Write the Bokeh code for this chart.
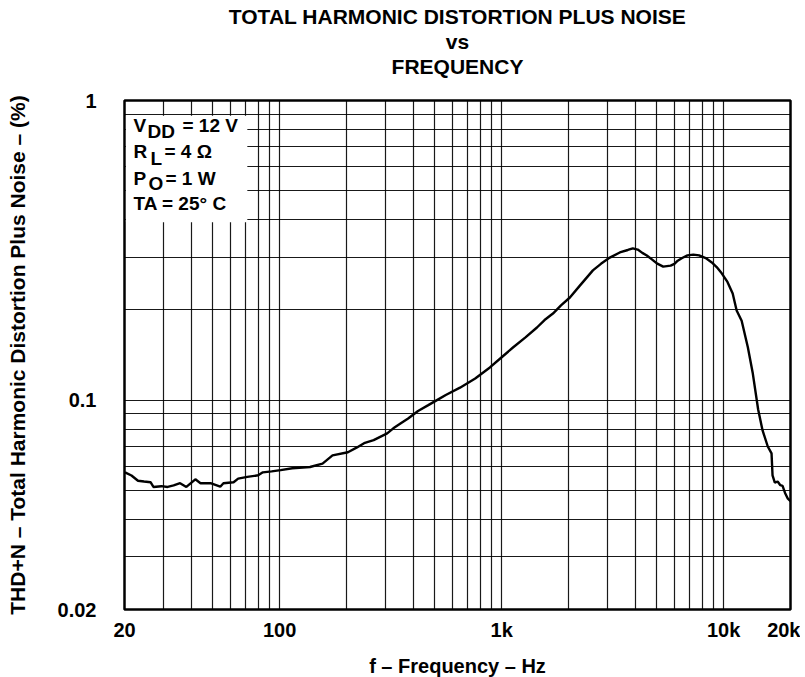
from bokeh.plotting import figure
from bokeh.models import FixedTicker, Label, Title
from bokeh.embed import file_html
from bokeh.resources import INLINE

# ---- data ----
freq = [20.1, 21.5, 23, 24.5, 26.2, 27, 29.3, 31.3, 33.3, 35.6, 38, 41.7, 44, 48.8, 54, 55.8,
        62, 65, 71.5, 80, 84, 92, 101, 114, 137, 156, 173, 203, 223, 240, 265, 305, 325, 350,
        379, 420, 465, 511, 560, 649, 760, 885, 1000, 1124, 1280, 1442, 1560, 1702, 1850, 2029,
        2250, 2576, 2800, 3070, 3405, 3700, 3897, 4100, 4300, 4506, 4750, 5000, 5340, 5770, 6000,
        6210, 6500, 6870, 7300, 7750, 8300, 8840, 9300, 9800, 10400, 10980, 11440, 12050, 12850,
        13530, 14300, 14970, 15800, 16430, 16600, 17000, 17500, 18000, 18420, 18900, 19410, 20000]
thdn = [0.0574, 0.0560, 0.0538, 0.0535, 0.0532, 0.0513, 0.0516, 0.0513, 0.0519, 0.0528, 0.0513,
        0.0544, 0.0528, 0.0528, 0.0514, 0.0528, 0.0532, 0.0547, 0.0554, 0.0561, 0.0574, 0.0578,
        0.0584, 0.0592, 0.0598, 0.0614, 0.0654, 0.0670, 0.0695, 0.0718, 0.0735, 0.0774, 0.0805,
        0.0835, 0.0868, 0.0920, 0.0960, 0.1000, 0.1040, 0.1100, 0.1180, 0.1285, 0.1390, 0.1498,
        0.1620, 0.1747, 0.1850, 0.1945, 0.2070, 0.2200, 0.2410, 0.2710, 0.2850, 0.2990, 0.3110,
        0.3170, 0.3210, 0.3180, 0.3100, 0.3040, 0.2950, 0.2860, 0.2790, 0.2810, 0.2850, 0.2920,
        0.2980, 0.3040, 0.3060, 0.3040, 0.2980, 0.2880, 0.2780, 0.2650, 0.2480, 0.2270, 0.1990,
        0.1840, 0.1500, 0.1226, 0.0930, 0.0792, 0.0700, 0.0664, 0.0561, 0.0530, 0.0535, 0.0520,
        0.0517, 0.0490, 0.0470, 0.0460]

x_ticks = [20, 100, 1000, 10000, 20000]
x_tick_labels = ["20", "100", "1k", "10k", "20k"]
y_ticks = [0.02, 0.1, 1]
y_tick_labels = ["0.02", "0.1", "1"]
x_grid = [30, 40, 50, 60, 70, 80, 90, 100, 200, 300, 400, 500, 600, 700, 800, 900,
          1000, 2000, 3000, 4000, 5000, 6000, 7000, 8000, 9000, 10000]
y_grid = [0.03, 0.04, 0.05, 0.06, 0.07, 0.08, 0.09, 0.1, 0.2, 0.3, 0.4, 0.5, 0.6, 0.7, 0.8, 0.9]

title_lines = ["TOTAL HARMONIC DISTORTION PLUS NOISE", "vs", "FREQUENCY"]
x_label = "f \u2013 Frequency \u2013 Hz"
y_label = "THD+N \u2013 Total Harmonic Distortion Plus Noise \u2013 (%)"

FONT = "Liberation Sans"

p = figure(frame_width=666, frame_height=509, x_axis_type="log", y_axis_type="log",
           x_range=(20, 20000), y_range=(0.02, 1), title=None,
           output_backend="svg", toolbar_location=None,
           min_border_left=124, min_border_right=10, min_border_top=100, min_border_bottom=40)

p.outline_line_color = "black"
p.outline_line_width = 2.5
p.background_fill_color = "white"
p.border_fill_color = "white"

for g, ticks in ((p.xgrid[0], x_grid), (p.ygrid[0], y_grid)):
    g.ticker = FixedTicker(ticks=ticks)
    g.grid_line_color = "black"
    g.grid_line_width = 1.2
    g.grid_line_alpha = 0.9

p.xaxis.ticker = FixedTicker(ticks=x_ticks)
p.xaxis.major_label_overrides = dict(zip(x_ticks, x_tick_labels))
p.yaxis.ticker = FixedTicker(ticks=y_ticks)
p.yaxis.major_label_overrides = dict(zip(y_ticks, y_tick_labels))

for ax in (p.xaxis[0], p.yaxis[0]):
    ax.axis_line_color = None
    ax.major_tick_line_color = None
    ax.minor_tick_line_color = None
    ax.major_label_text_font = FONT
    ax.major_label_text_font_style = "bold"
    ax.major_label_text_font_size = "20px"
    ax.major_label_text_color = "black"
    ax.axis_label_text_font = FONT
    ax.axis_label_text_font_style = "bold"
    ax.axis_label_text_font_size = "20px"
    ax.axis_label_text_color = "black"

p.yaxis.axis_label_text_font_size = "21px"
p.xaxis.axis_label = x_label
p.yaxis.axis_label = y_label
p.xaxis.major_label_standoff = 3
p.xaxis.axis_label_standoff = 11
p.yaxis.major_label_standoff = 22
p.yaxis.major_label_orientation = "horizontal"
p.yaxis.axis_label_standoff = 26

# three stacked title lines (first added sits nearest the frame); a blank spacer
# line keeps the gap between the title block and the plot
p.add_layout(Title(text=" ", text_font=FONT, text_font_size="19px", standoff=0), "above")
for text in reversed(title_lines):
    p.add_layout(Title(text=text, align="center", text_font=FONT, text_font_style="bold",
                       text_font_size="21px", text_color="black", standoff=0), "above")

# condition box (white background over the grid)
p.quad(left=20.3, right=71.5, bottom=0.392, top=0.89, fill_color="white", line_color=None)

p.line(freq, thdn, line_color="black", line_width=2.4)

def lab(x, y, text, size="19px", align="left"):
    p.add_layout(Label(x=x, y=y, x_units="screen", y_units="screen", text=text,
                       text_font=FONT, text_font_style="bold", text_font_size=size,
                       text_color="black", text_align=align, text_baseline="alphabetic"))

# conditions text
lab(9, 484, "V")
lab(23, 478, "DD")
lab(58, 484, "= 12 V")
lab(9, 458, "R")
lab(26, 451, "L")
lab(40, 458, "= 4 \u03a9")
lab(9, 431, "P")
lab(24, 426, "O")
lab(41, 431, "= 1 W")
lab(9, 406, "TA = 25\u00b0 C")

open("out.html", "w").write(file_html(p, INLINE))
